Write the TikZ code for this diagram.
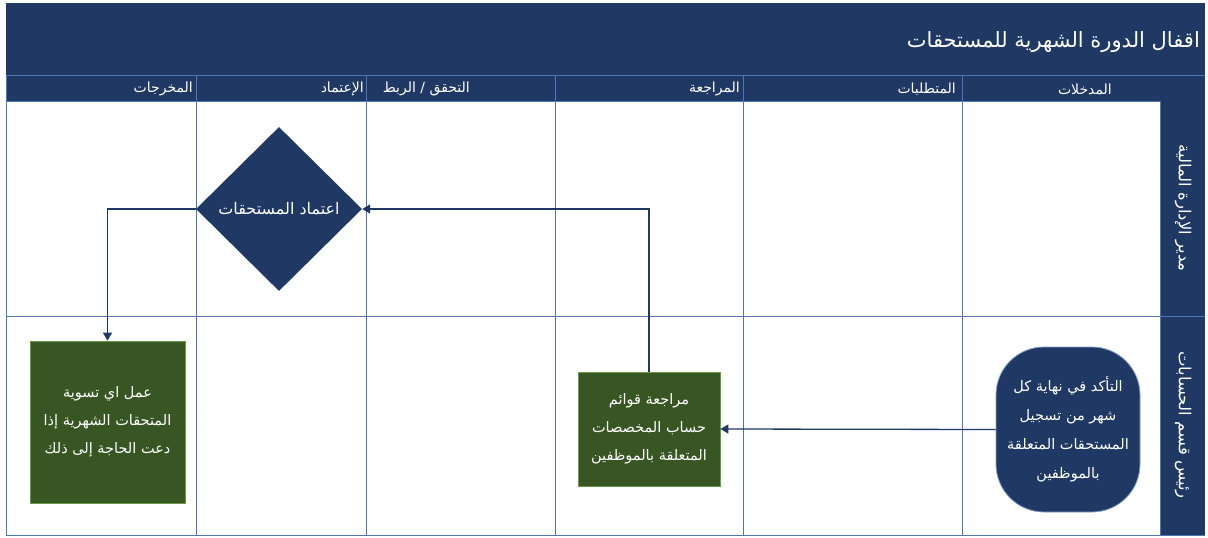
\documentclass[tikz,border=0pt]{standalone}
\usepackage{fontspec}
\TeXXeTstate=1
\newfontfamily\arabicfont[Script=Arabic]{DejaVu Sans}
\usetikzlibrary{shapes.geometric,arrows.meta}
\definecolor{navy}{HTML}{203864}
\definecolor{laneline}{HTML}{4F74B8}
\definecolor{dgreen}{HTML}{385623}
\definecolor{lgreen}{HTML}{6A9A45}
\newcommand{\ar}[1]{\beginR #1\endR}
\tikzset{
  hdr/.style={anchor=east, text=white, inner sep=0pt, font=\arabicfont\fontsize{14}{16}\selectfont},
  lanelbl/.style={rotate=-90, text=white, inner sep=0pt, font=\arabicfont\fontsize{16.5}{18}\selectfont},
  greenbox/.style={rectangle, fill=dgreen, draw=lgreen, line width=0.8pt, text=white, align=center, inner sep=2pt, font=\arabicfont\fontsize{14.5}{28}\selectfont},
  startbox/.style={rectangle, rounded corners=48pt, fill=navy, draw=laneline!70, line width=0.8pt, text=white, align=center, inner sep=2pt, font=\arabicfont\fontsize{14.5}{29}\selectfont},
  decbox/.style={diamond, fill=navy, text=white, inner sep=0pt, font=\arabicfont\fontsize{16}{18}\selectfont},
  conn/.style={draw=navy, line width=1.3pt, -{Triangle[width=9pt,length=8pt]}},
  sep/.style={draw=laneline, line width=0.9pt}
}
\begin{document}
\begin{tikzpicture}[x=1pt,y=-1pt]
\useasboundingbox (0,0) rectangle (1208,538);
% title + header band
\fill[navy] (6,3) rectangle (1205,101);
\fill[navy] (1160,101) rectangle (1205,535);
\draw[sep] (6,75) -- (1205,75);
% lane area frame
\draw[sep] (6,101) -- (1160,101);
\draw[sep] (6,316) -- (1205,316);
\draw[sep] (6,535) -- (1205,535);
\draw[sep] (6,75) -- (6,535);
\draw[sep] (1160,101) -- (1160,535);
% column separators
\foreach \x in {196,366,555,743,962} { \draw[sep] (\x,75) -- (\x,535); }
% title
\node[anchor=east, text=white, inner sep=0pt, font=\arabicfont\fontsize{21}{24}\selectfont] (title) at (1200,42) {\ar{اقفال الدورة الشهرية للمستحقات}};
% headers
\node[hdr] (h1) at (1112,89) {\ar{المدخلات}};
\node[hdr] (h2) at (956,89) {\ar{المتطلبات}};
\node[hdr] (h3) at (740,89) {\ar{المراجعة}};
\node[hdr] (h4) at (470,89) {\ar{التحقق / الربط}};
\node[hdr] (h5) at (364,89) {\ar{الإعتماد}};
\node[hdr] (h6) at (193,89) {\ar{المخرجات}};
% lane labels
\node[lanelbl] (l1) at (1183,208) {\ar{مدير الإدارة المالية}};
\node[lanelbl] (l2) at (1183,425) {\ar{رئيس قسم الحسابات}};
% shapes
\node[startbox, minimum width=144pt, minimum height=165pt] (start) at (1068,429.5)
  {\ar{التأكد في نهاية كل}\\\ar{شهر من تسجيل}\\\ar{المستحقات المتعلقة}\\\ar{بالموظفين}};
\node[greenbox, minimum width=142pt, minimum height=114pt] (rev) at (649,429)
  {\ar{مراجعة قوائم}\\\ar{حساب المخصصات}\\\ar{المتعلقة بالموظفين}};
\node[decbox, minimum width=166pt, minimum height=164pt] (appr) at (279,209) {\ar{اعتماد المستحقات}};
\node[greenbox, minimum width=155pt, minimum height=162pt] (out) at (107.5,422)
  {\ar{عمل اي تسوية}\\\ar{المتحقات الشهرية إذا}\\\ar{دعت الحاجة إلى ذلك}};
% connectors
\draw[conn] (start.west) -- (rev.east);
\draw[conn] (rev.north) |- (appr.east);
\draw[conn] (appr.west) -| (out.north);
\end{tikzpicture}
\end{document}
